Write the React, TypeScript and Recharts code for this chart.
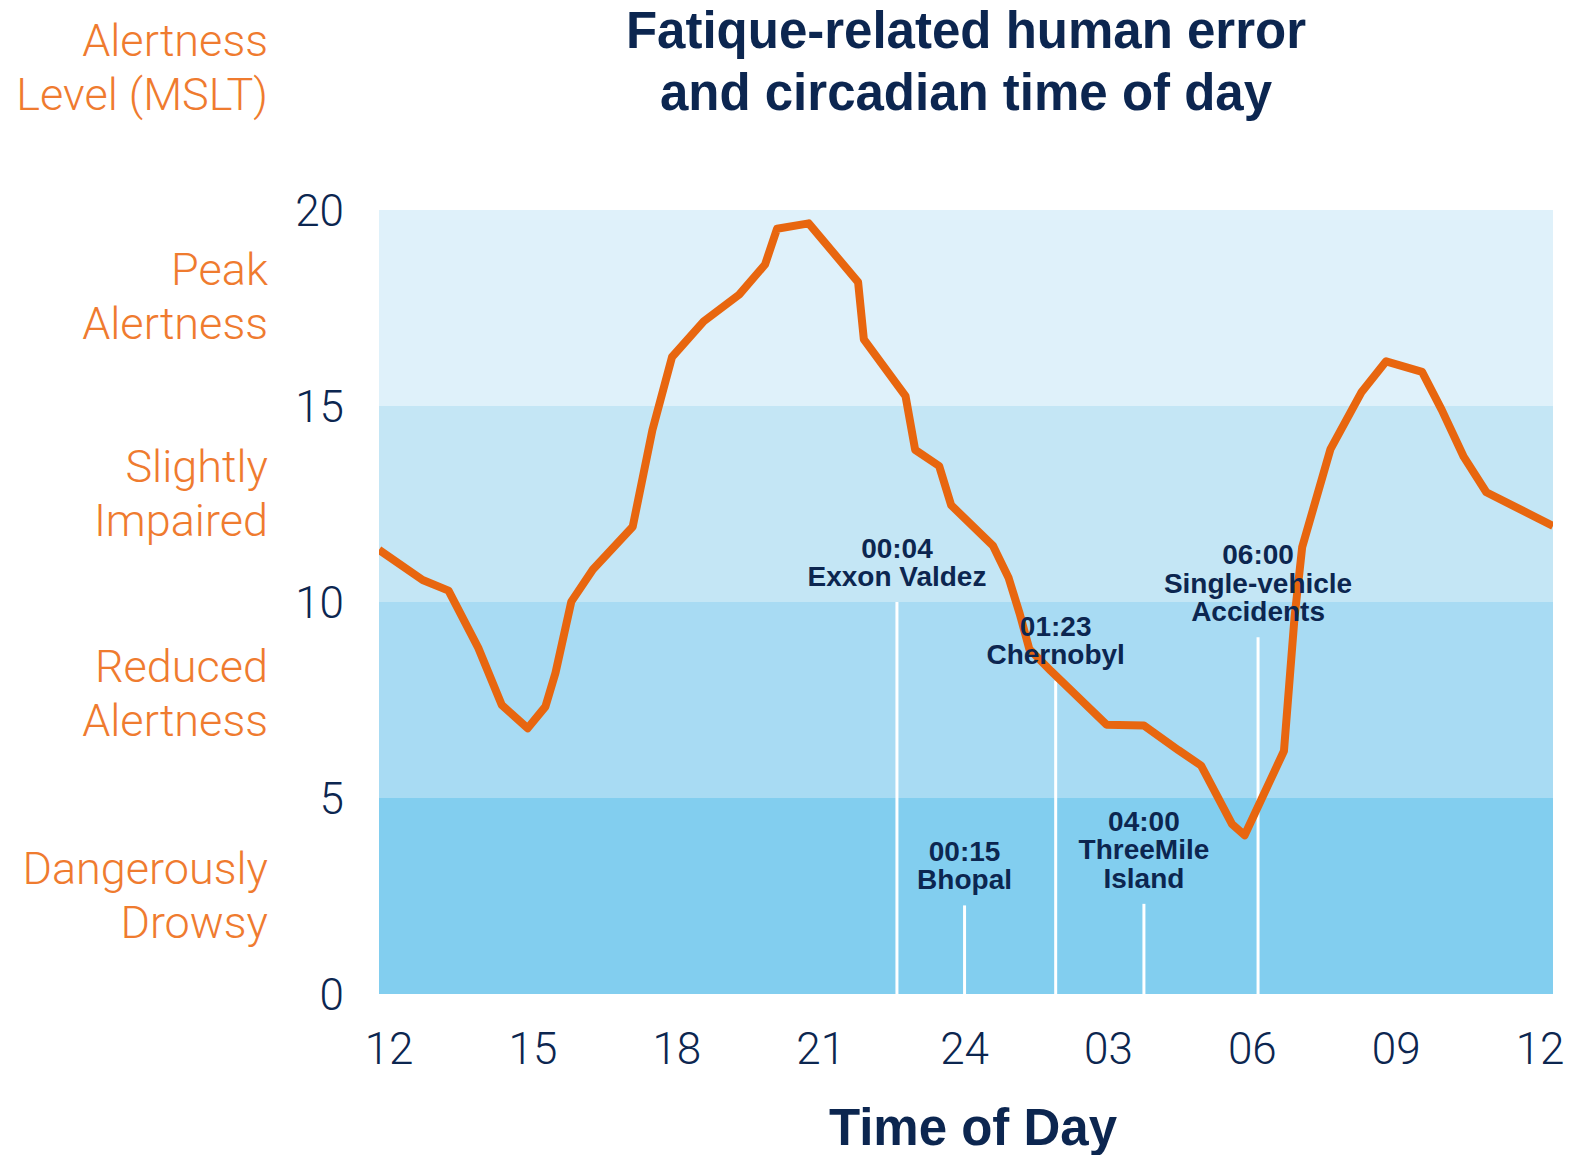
import React from "react";
import {
  LineChart,
  Line,
  XAxis,
  YAxis,
  ReferenceArea,
  ReferenceLine,
} from "recharts";

// alertness curve, hours from noon (24 = midnight, 36 = noon next day)
const hours = [
  11.79, 12.7, 13.24, 13.86, 14.35, 14.89, 15.26, 15.47, 15.8, 16.25,
  17.08, 17.49, 17.9, 18.56, 19.3, 19.84, 20.09, 20.75, 21.78, 21.9,
  22.77, 22.97, 23.47, 23.72, 24.59, 24.92, 25.15, 25.35, 25.8, 26.96,
  27.74, 28.46, 28.93, 29.58, 29.84, 30.66, 30.88, 31.04, 31.63, 32.28,
  32.79, 33.54, 33.95, 34.41, 34.88, 36.27,
];
const alertness = [
  11.33, 10.56, 10.29, 8.83, 7.37, 6.78, 7.33, 8.19, 10.01, 10.83,
  11.92, 14.38, 16.25, 17.16, 17.84, 18.61, 19.52, 19.66, 18.16, 16.7,
  15.25, 13.88, 13.47, 12.47, 11.44, 10.61, 9.7, 8.8, 8.24, 6.87,
  6.85, 6.22, 5.83, 4.33, 4.05, 6.2, 9.6, 11.4, 13.9, 15.36,
  16.14, 15.87, 14.9, 13.7, 12.8, 11.94,
];

const xTicks = [12, 15, 18, 21, 24, 27, 30, 33, 36];
const yTicks = [0, 5, 10, 15, 20];

const bandEdges = [0, 5, 10, 15, 20];
const bandColors = ["#82ceef", "#a8dbf3", "#c4e6f5", "#dff1fa"];
const bandNames = [
  ["Dangerously", "Drowsy"],
  ["Reduced", "Alertness"],
  ["Slightly", "Impaired"],
  ["Peak", "Alertness"],
];

const eventTimes = ["00:04", "00:15", "01:23", "04:00", "06:00"];
const eventNames = [
  ["Exxon Valdez"],
  ["Bhopal"],
  ["Chernobyl"],
  ["ThreeMile", "Island"],
  ["Single-vehicle", "Accidents"],
];
const eventHours = [22.59, 24.0, 25.9, 27.74, 30.12];
const eventTops = [10, 2.26, 8.0, 2.3, 9.1];

const NAVY = "#0c2650";
const ORANGE = "#ef7b2f";
const LINE_ORANGE = "#e8660f";

const data = hours.map((h, i) => ({ h, v: alertness[i] }));

const fmtHour = (h: number) => {
  const v = h > 24 ? h - 24 : h;
  return String(v).padStart(2, "0");
};

const EventLabel = (lines: string[]) => (props: any) => {
  const vb = props.viewBox || {};
  const x = vb.x;
  const top = vb.y;
  const lh = 28.5;
  const last = top - 16;
  return (
    <text
      x={x}
      textAnchor="middle"
      fontFamily="'Liberation Sans', Arial, sans-serif"
      fontWeight={700}
      fontSize={28}
      fill={NAVY}
    >
      {lines.map((l, i) => (
        <tspan key={i} x={x} y={last - (lines.length - 1 - i) * lh}>
          {l}
        </tspan>
      ))}
    </text>
  );
};

export default function App() {
  const labelStyle: React.CSSProperties = {
    position: "absolute",
    right: 1595 - 268,
    textAlign: "right",
    color: ORANGE,
    fontFamily: "Roboto, 'Open Sans', sans-serif",
    fontWeight: 300,
    fontSize: 45,
    lineHeight: "53.5px",
    whiteSpace: "nowrap",
  };
  const bandLabelTops = [842, 640, 440, 243];

  return (
    <div
      style={{
        position: "absolute",
        left: 0,
        top: 0,
        width: 1595,
        height: 1155,
        background: "#fff",
        overflow: "hidden",
      }}
    >
      <div
        style={{
          position: "absolute",
          left: 566,
          width: 800,
          top: 0,
          textAlign: "center",
          color: NAVY,
          fontFamily: "'Liberation Sans', Arial, sans-serif",
          fontWeight: 700,
          fontSize: 51,
          lineHeight: "62px",
        }}
      >
        Fatique-related human error
        <br />
        and circadian time of day
      </div>

      <div style={{ ...labelStyle, top: 14 }}>
        Alertness
        <br />
        Level (MSLT)
      </div>
      {bandNames.map((n, i) => (
        <div key={i} style={{ ...labelStyle, top: bandLabelTops[i] }}>
          {n[0]}
          <br />
          {n[1]}
        </div>
      ))}

      <div
        style={{
          position: "absolute",
          left: 673,
          width: 600,
          top: 1099,
          textAlign: "center",
          color: NAVY,
          fontFamily: "'Liberation Sans', Arial, sans-serif",
          fontWeight: 700,
          fontSize: 51,
          lineHeight: "58px",
        }}
      >
        Time of Day
      </div>

      <div style={{ position: "absolute", left: 0, top: 0 }}>
        <LineChart
          width={1595}
          height={1155}
          data={data}
          margin={{ top: 210, right: 42, bottom: 61, left: 279 }}
        >
          {bandColors.map((c, i) => (
            <ReferenceArea
              key={i}
              y1={bandEdges[i]}
              y2={bandEdges[i + 1]}
              fill={c}
              fillOpacity={1}
              stroke="none"
              ifOverflow="extendDomain"
            />
          ))}
          <XAxis
            dataKey="h"
            type="number"
            domain={[11.79, 36.27]}
            ticks={xTicks}
            allowDataOverflow
            tickFormatter={fmtHour}
            axisLine={false}
            tickLine={false}
            tickSize={0}
            tickMargin={39}
            height={100}
            tick={{
              fontSize: 44,
              fill: NAVY,
              fontFamily: "Roboto, sans-serif",
              fontWeight: 300,
            }}
          />
          <YAxis
            type="number"
            domain={[0, 20]}
            ticks={yTicks}
            axisLine={false}
            tickLine={false}
            tickSize={0}
            tickMargin={35}
            width={100}
            tick={{
              fontSize: 44,
              fill: NAVY,
              fontFamily: "Roboto, sans-serif",
              fontWeight: 300,
            }}
          />
          {eventHours.map((x, i) => (
            <ReferenceLine
              key={i}
              segment={[
                { x, y: eventTops[i] },
                { x, y: 0 },
              ]}
              stroke="#ffffff"
              strokeWidth={3}
            />
          ))}
          <Line
            type="linear"
            dataKey="v"
            stroke={LINE_ORANGE}
            strokeWidth={8}
            strokeLinejoin="round"
            dot={false}
            activeDot={false}
            isAnimationActive={false}
          />
          {eventHours.map((x, i) => (
            <ReferenceLine
              key={"l" + i}
              segment={[
                { x, y: eventTops[i] },
                { x, y: eventTops[i] },
              ]}
              stroke="none"
              label={{
                content: EventLabel([eventTimes[i], ...eventNames[i]]),
              }}
            />
          ))}
        </LineChart>
      </div>
    </div>
  );
}
